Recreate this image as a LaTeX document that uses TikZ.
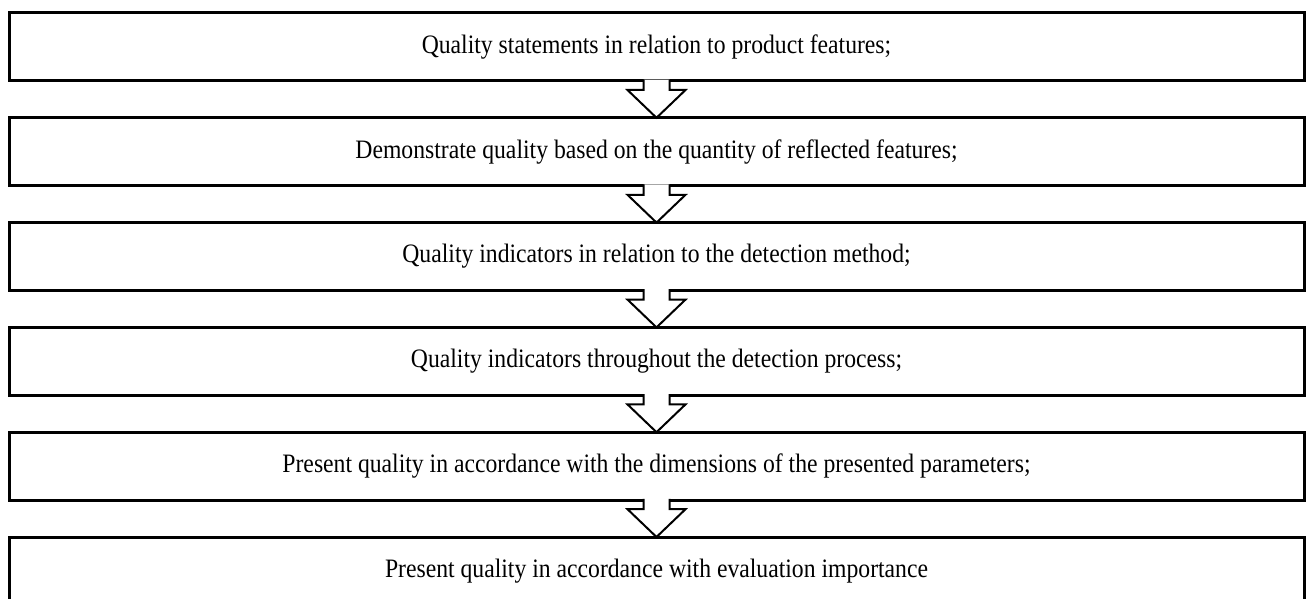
\documentclass[tikz,border=0pt]{standalone}
\usepackage{fontspec}
\setmainfont{Liberation Serif}[FakeStretch=0.89]
\usetikzlibrary{positioning,calc}

\begin{document}
\begin{tikzpicture}[x=1pt,y=1pt,
                    stage/.style={draw,line width=1.5pt,minimum width=647.5pt,minimum height=34pt,
                                  inner sep=0pt,outer sep=0pt,font=\fontsize{13.3}{16}\selectfont},
                    flow/.style={draw,fill=white,line width=1pt,line join=miter,
                                 to path={let \p1=(\tikztostart), \p2=(\tikztotarget) in
                                          (\x1-6.5,\y1+0.7) -- (\x1-6.5,\y1-4.5) -- (\x1-14.5,\y1-4.5) -- (\x2,\y2)
                                          -- (\x1+14.5,\y1-4.5) -- (\x1+6.5,\y1-4.5) -- (\x1+6.5,\y1+0.7)}},
                    node distance=18.4pt
]
\useasboundingbox (0,0) rectangle (653,-299.5);
\clip (0,0) rectangle (653,-299.5);

\node [stage, anchor=north] at (328.25,-6.5) (s1) {Quality statements in relation to product features;};
\node [stage, below=of s1] (s2) {Demonstrate quality based on the quantity of reflected features;};
\node [stage, below=of s2] (s3) {Quality indicators in relation to the detection method;};
\node [stage, below=of s3] (s4) {Quality indicators throughout the detection process;};
\node [stage, below=of s4] (s5) {Present quality in accordance with the dimensions of the presented parameters;};
\node [stage, below=of s5] (s6) {Present quality in accordance with evaluation importance};
%
\foreach \a/\b in {s1/s2,s2/s3,s3/s4,s4/s5,s5/s6}
  \draw [flow] (\a.south) to (\b.north);
\end{tikzpicture}
\end{document}
